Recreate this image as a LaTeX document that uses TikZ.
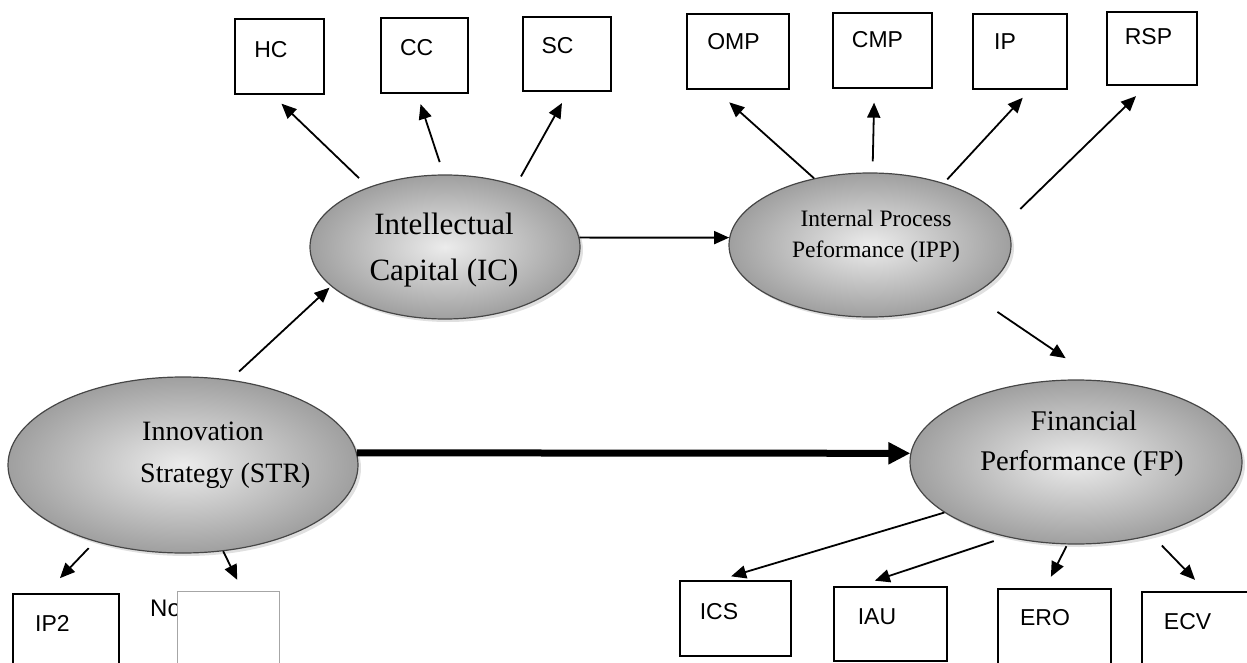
\documentclass[tikz,border=0pt]{standalone}
\usepackage{fontspec}
\setmainfont{Liberation Serif}
\newfontfamily\labelfont{Liberation Sans}
\usetikzlibrary{arrows.meta,shapes.geometric,shadows}
\begin{document}
\begin{tikzpicture}[x=1pt,y=-1pt,
  oval/.style={ellipse, draw=gray!55!black, line width=1.2pt, inner sep=0pt,
    shade, shading=radial, inner color=gray!15, outer color=gray!75,
    drop shadow={shadow xshift=3pt, shadow yshift=-3pt, fill=gray!40, opacity=0.6}},
  box/.style={draw, line width=1.3pt, inner sep=0pt, fill=white},
  blank/.style={draw=gray!70, line width=0.8pt, inner sep=0pt, fill=white},
  lbl/.style={font=\labelfont\fontsize{23}{27}\selectfont, inner sep=0pt},
  otxt/.style={inner sep=0pt, anchor=base},
  arr/.style={line width=1.8pt, -{Triangle[length=15pt,width=13pt]}},
  bigarr/.style={line width=7pt, -{Triangle[length=22pt,width=21pt]}}
]
\clip (0,0) rectangle (1247,663);
\useasboundingbox (0,0) rectangle (1247,663);

% ellipses
\node[oval, minimum width=270pt, minimum height=144pt] (ic) at (445,247) {};
\node[oval, minimum width=282pt, minimum height=144pt] (ipp) at (870,245) {};
\node[oval, minimum width=332pt, minimum height=164pt] (fp) at (1076,462) {};
\node[oval, minimum width=350pt, minimum height=176pt] (str) at (183,465) {};

% ellipse texts
\node[otxt, font=\fontsize{31}{36}\selectfont] (ic1) at (444,234) {Intellectual};
\node[otxt, font=\fontsize{31}{36}\selectfont] (ic2) at (444,280) {Capital (IC)};
\node[otxt, font=\fontsize{23.5}{28}\selectfont] (ipp1) at (876,226) {Internal Process};
\node[otxt, font=\fontsize{23.5}{28}\selectfont] (ipp2) at (876,257) {Peformance (IPP)};
\node[otxt, font=\fontsize{28.5}{34}\selectfont] (fp1) at (1084,430) {Financial};
\node[otxt, font=\fontsize{28.5}{34}\selectfont] (fp2) at (1082,470) {Performance (FP)};
\node[otxt, anchor=base west, font=\fontsize{28}{34}\selectfont] (str1) at (142,440) {Innovation};
\node[otxt, anchor=base west, font=\fontsize{28}{34}\selectfont] (str2) at (140,482) {Strategy (STR)};

% top boxes
\node[box, minimum width=89pt, minimum height=75pt] (hc) at (279.5,56.5) {};
\node[box, minimum width=87pt, minimum height=75pt] (cc) at (424.5,55.5) {};
\node[box, minimum width=88pt, minimum height=74pt] (sc) at (567,54) {};
\node[box, minimum width=102pt, minimum height=75pt] (omp) at (738,51.5) {};
\node[box, minimum width=99pt, minimum height=75pt] (cmp) at (882.5,50.5) {};
\node[box, minimum width=94pt, minimum height=75pt] (ip) at (1020,51.5) {};
\node[box, minimum width=90pt, minimum height=73pt] (rsp) at (1152,48.5) {};

\node[lbl] (hct) at (271,49.5) {HC};
\node[lbl] (cct) at (416.7,48) {CC};
\node[lbl] (sct) at (557.5,46) {SC};
\node[lbl] (ompt) at (733.5,42) {OMP};
\node[lbl] (cmpt) at (877.5,40) {CMP};
\node[lbl] (ipt) at (1005,42) {IP};
\node[lbl] (rspt) at (1148.5,37) {RSP};

% bottom boxes
\node[box, minimum width=111pt, minimum height=75pt] (ics) at (735.5,618.5) {};
\node[box, minimum width=113pt, minimum height=74pt] (iau) at (890.5,624) {};
\node[box, minimum width=113pt, minimum height=81pt] (ero) at (1054.5,629.5) {};
\node[box, minimum width=110pt, minimum height=78pt] (ecv) at (1197,631) {};
\node[box, minimum width=106pt, minimum height=76pt] (ip2) at (66,632) {};

\node[lbl] (icst) at (719,612) {ICS};
\node[lbl] (iaut) at (877,617) {IAU};
\node[lbl] (erot) at (1045,618) {ERO};
\node[lbl] (ecvt) at (1187.6,622) {ECV};
\node[lbl] (ip2t) at (52.5,623) {IP2};
\node[lbl, anchor=base west, font=\labelfont\fontsize{24}{28}\selectfont] (not) at (150,616) {No};
\node[blank, minimum width=102pt, minimum height=79pt] (nob) at (228,630.5) {};

% connectors
\draw[arr, shorten <=13pt, shorten >=13pt] (ic.142) -- (hc.-101);
\draw[arr, shorten <=13pt, shorten >=11pt] (ic.91) -- (cc.-101);
\draw[arr, shorten <=10pt, shorten >=13pt] (ic.41) -- (sc.-88);
\draw[arr, shorten >=19pt] (ipp.130) -- (omp.-121);
\draw[arr, shorten <=11pt, shorten >=14pt] (ipp.88) -- (cmp.-102);
\draw[arr, shorten <=5pt, shorten >=11pt] (ipp.40) -- (ip.-75);
\draw[arr, shorten <=21pt, shorten >=15pt] (ipp.9) -- (rsp.-98);
\draw[arr] (ic.4) -- (ipp.177);
\draw[arr, shorten <=12pt, shorten >=2pt] (str.61) -- (ic.199);
\draw[bigarr] (str.4) -- (fp.177);
\draw[arr, shorten <=30pt, shorten >=39pt] (ipp.-26) -- (fp.75);
\draw[arr, shorten <=9pt, shorten >=21pt] (str.221) -- (ip2.118);
\draw[arr, shorten >=12pt] (str.-65) -- (nob.70);
\draw[arr, shorten >=14pt] (fp.201) -- (ics.115);
\draw[arr, shorten <=13pt, shorten >=18pt] (fp.227) -- (iau.131);
\draw[arr, shorten <=2pt, shorten >=13pt] (fp.264) -- (ero.103);
\draw[arr, shorten <=14pt, shorten >=16pt] (fp.-44) -- (ecv.77);
\end{tikzpicture}
\end{document}
